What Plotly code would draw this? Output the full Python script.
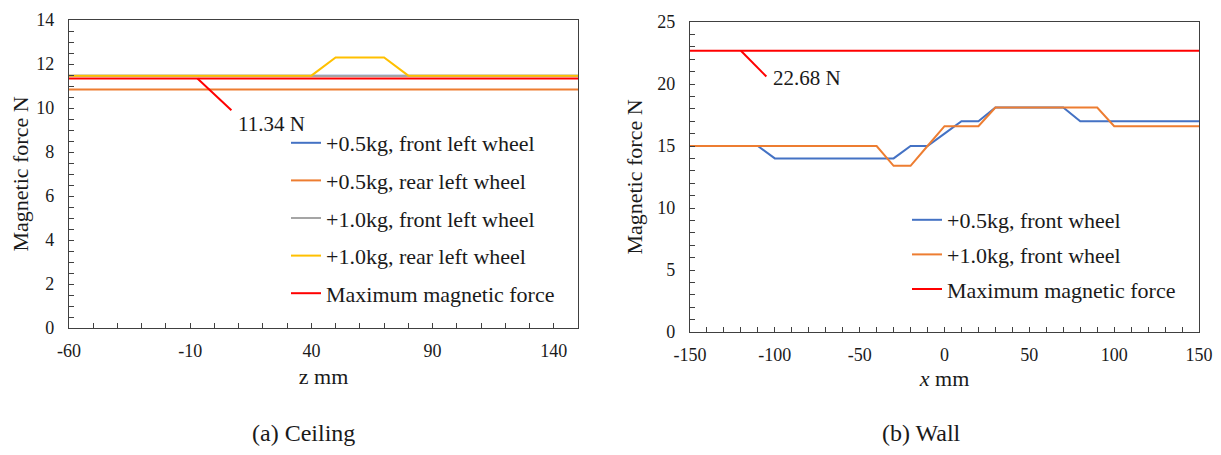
import plotly.graph_objects as go

# ---------------- data: (a) Ceiling ----------------
z_mm = [-60, -50, -40, -30, -20, -10, 0, 10, 20, 30, 40, 50, 60, 70, 80, 90, 100, 110, 120, 130, 140, 150]
ceil_05_front = [11.47, 11.47, 11.47, 11.47, 11.47, 11.47, 11.47, 11.47, 11.47, 11.47, 11.47,
                 11.47, 11.47, 11.47, 11.47, 11.47, 11.47, 11.47, 11.47, 11.47, 11.47, 11.47]
ceil_05_rear = [10.84, 10.84, 10.84, 10.84, 10.84, 10.84, 10.84, 10.84, 10.84, 10.84, 10.84,
                10.84, 10.84, 10.84, 10.84, 10.84, 10.84, 10.84, 10.84, 10.84, 10.84, 10.84]
ceil_10_front = [11.46, 11.46, 11.46, 11.46, 11.46, 11.46, 11.46, 11.46, 11.46, 11.46, 11.46,
                 11.46, 11.46, 11.46, 11.46, 11.46, 11.46, 11.46, 11.46, 11.46, 11.46, 11.46]
ceil_10_rear = [11.47, 11.47, 11.47, 11.47, 11.47, 11.47, 11.47, 11.47, 11.47, 11.47, 11.47,
                12.3, 12.3, 12.3, 11.47, 11.47, 11.47, 11.47, 11.47, 11.47, 11.47, 11.47]
ceil_max = [11.34, 11.34, 11.34, 11.34, 11.34, 11.34, 11.34, 11.34, 11.34, 11.34, 11.34,
            11.34, 11.34, 11.34, 11.34, 11.34, 11.34, 11.34, 11.34, 11.34, 11.34, 11.34]
ceil_max_label = "11.34 N"
ceil_label_line = [(-7, 11.34), (7, 9.9)]
ceil_label_pos = (9, 9.25)
ceil_xticks = [-60, -10, 40, 90, 140]
ceil_xtick_text = ["-60", "-10", "40", "90", "140"]
ceil_yticks = [0, 2, 4, 6, 8, 10, 12, 14]

# ---------------- data: (b) Wall ----------------
x_mm = [-150, -140, -130, -120, -110, -100, -90, -80, -70, -60, -50, -40, -30, -20, -10, 0,
        10, 20, 30, 40, 50, 60, 70, 80, 90, 100, 110, 120, 130, 140, 150]
wall_05_front = [15, 15, 15, 15, 15, 14, 14, 14, 14, 14, 14, 14, 14, 15, 15, 16,
                 17, 17, 18.1, 18.1, 18.1, 18.1, 18.1, 17, 17, 17, 17, 17, 17, 17, 17]
wall_10_front = [15, 15, 15, 15, 15, 15, 15, 15, 15, 15, 15, 15, 13.4, 13.4, 15, 16.6,
                 16.6, 16.6, 18.1, 18.1, 18.1, 18.1, 18.1, 18.1, 18.1, 16.6, 16.6, 16.6, 16.6, 16.6, 16.6]
wall_max = [22.68, 22.68, 22.68, 22.68, 22.68, 22.68, 22.68, 22.68, 22.68, 22.68, 22.68,
            22.68, 22.68, 22.68, 22.68, 22.68, 22.68, 22.68, 22.68, 22.68, 22.68, 22.68,
            22.68, 22.68, 22.68, 22.68, 22.68, 22.68, 22.68, 22.68, 22.68]
wall_max_label = "22.68 N"
wall_label_line = [(-120, 22.68), (-105, 20.6)]
wall_label_pos = (-102, 20.5)
wall_xticks = [-150, -100, -50, 0, 50, 100, 150]
wall_xtick_text = ["-150", "-100", "-50", "0", "50", "100", "150"]
wall_yticks = [0, 5, 10, 15, 20, 25]

captions = ["(a) Ceiling", "(b) Wall"]

BLUE, ORANGE, GRAY, YELLOW, RED = "#4472C4", "#ED7D31", "#A5A5A5", "#FFC000", "#FF0000"
FONT = "Liberation Serif, Times New Roman, Times, serif"
OFF = 8                       # default page body margin
W, H = 1221 - 2 * OFF, 455 - 2 * OFF
TXT = "#1a1a1a"

fig = go.Figure()

def add(x, y, name, color, xa, ya, leg, grp):
    fig.add_trace(go.Scatter(x=x, y=y, name=name, mode="lines",
                             line=dict(color=color, width=2),
                             xaxis=xa, yaxis=ya, legend=leg, legendgroup=grp))

add(z_mm, ceil_05_front, "+0.5kg, front left wheel", BLUE, "x", "y", "legend", "a1")
add(z_mm, ceil_05_rear, "+0.5kg, rear left wheel", ORANGE, "x", "y", "legend", "a2")
add(z_mm, ceil_10_front, "+1.0kg, front left wheel", GRAY, "x", "y", "legend", "a3")
add(z_mm, ceil_10_rear, "+1.0kg, rear left wheel", YELLOW, "x", "y", "legend", "a4")
add(z_mm, ceil_max, "Maximum magnetic force", RED, "x", "y", "legend", "a5")

add(x_mm, wall_05_front, "+0.5kg, front wheel", BLUE, "x2", "y2", "legend2", "b1")
add(x_mm, wall_10_front, "+1.0kg, front wheel", ORANGE, "x2", "y2", "legend2", "b2")
add(x_mm, wall_max, "Maximum magnetic force", RED, "x2", "y2", "legend2", "b3")

def px_x(p):
    return (p - OFF) / W

def px_y(p):
    return 1 - (p - OFF) / H

AX = "#404040"
tickfont = dict(family=FONT, size=18, color=TXT)
titlefont = dict(family=FONT, size=22, color=TXT)

def axis(domain, rng, tickvals, ticktext, minor, title, anchor, standoff, lblstand):
    return dict(domain=domain, range=rng, tickmode="array", tickvals=tickvals, ticktext=ticktext,
                showgrid=False, zeroline=False, automargin=False,
                showline=True, linecolor=AX, linewidth=1.3, mirror=True,
                ticks="inside", ticklen=5, tickcolor=AX, tickwidth=1.3, ticklabelstandoff=lblstand,
                minor=dict(dtick=minor, tick0=rng[0], ticks="inside", ticklen=5, tickcolor=AX,
                           tickwidth=1.3, showgrid=False),
                tickfont=tickfont, title=dict(text=title, font=titlefont, standoff=standoff),
                anchor=anchor)

fig.update_layout(
    width=W, height=H, margin=dict(l=0, r=0, t=0, b=0, autoexpand=False),
    paper_bgcolor="white", plot_bgcolor="white",
    xaxis=axis([px_x(69), px_x(578)], [-60, 150], ceil_xticks, ceil_xtick_text, 10, "z mm", "y", 8, 6),
    yaxis=axis([px_y(328), px_y(20)], [0, 14], ceil_yticks, [str(v) for v in ceil_yticks], 0.5,
               "Magnetic force N", "x", 16, 10),
    xaxis2=axis([px_x(690), px_x(1199)], [-150, 150], wall_xticks, wall_xtick_text, 10, "<i>x</i> mm", "y2", 6, 6),
    yaxis2=axis([px_y(332), px_y(22)], [0, 25], wall_yticks, [str(v) for v in wall_yticks], 1,
                "Magnetic force N", "x2", 8, 10),
    legend=dict(x=px_x(286), y=px_y(122), xanchor="left", yanchor="top",
                font=dict(family=FONT, size=22, color=TXT), bgcolor="rgba(0,0,0,0)",
                tracegroupgap=6),
    legend2=dict(x=px_x(907), y=px_y(199), xanchor="left", yanchor="top",
                 font=dict(family=FONT, size=22, color=TXT), bgcolor="rgba(0,0,0,0)",
                 tracegroupgap=3),
    showlegend=True,
)

# label leader lines and texts
fig.add_shape(type="line", xref="x", yref="y",
              x0=ceil_label_line[0][0], y0=ceil_label_line[0][1],
              x1=ceil_label_line[1][0], y1=ceil_label_line[1][1],
              line=dict(color=RED, width=2))
fig.add_annotation(xref="x", yref="y", x=ceil_label_pos[0], y=ceil_label_pos[1], text=ceil_max_label,
                   showarrow=False, xanchor="left", yanchor="middle",
                   font=dict(family=FONT, size=21, color=TXT))
fig.add_shape(type="line", xref="x2", yref="y2",
              x0=wall_label_line[0][0], y0=wall_label_line[0][1],
              x1=wall_label_line[1][0], y1=wall_label_line[1][1],
              line=dict(color=RED, width=2))
fig.add_annotation(xref="x2", yref="y2", x=wall_label_pos[0], y=wall_label_pos[1], text=wall_max_label,
                   showarrow=False, xanchor="left", yanchor="middle",
                   font=dict(family=FONT, size=21, color=TXT))

# captions
for cx, cap in zip([303, 921], captions):
    fig.add_annotation(xref="paper", yref="paper", x=px_x(cx), y=0, text=cap,
                       showarrow=False, xanchor="center", yanchor="bottom", borderpad=0,
                       font=dict(family=FONT, size=24, color=TXT))

fig.write_html("out.html")
